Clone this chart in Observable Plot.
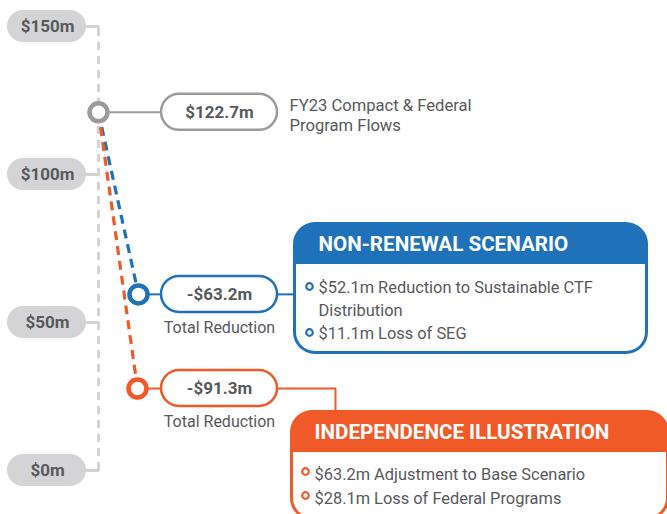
<!DOCTYPE html>
<html><head><meta charset="utf-8">
<script src="https://cdn.jsdelivr.net/npm/d3@7"></script>
<script src="https://cdn.jsdelivr.net/npm/@observablehq/plot@0.6"></script>
<style>html,body{margin:0;padding:0;overflow:hidden;background:#fff}</style>
</head><body><div id="chart"></div>
<script>
// ---- data ----
const tickValues = [0, 50, 100, 150];
const tickLabels = ["$0m", "$50m", "$100m", "$150m"];
const stepNames = ["base", "nonrenewal", "independence"];
const stepLevels = [121.0, 59.5, 27.7];          // vertical position of each node ($m)
const stepLabels = ["$122.7m", "-$63.2m", "-$91.3m"];
const stepSubLabels = ["", "Total Reduction", "Total Reduction"];
const baseCaption = "FY23 Compact & Federal\nProgram Flows";
const scenarioTitles = ["NON-RENEWAL SCENARIO", "INDEPENDENCE ILLUSTRATION"];
const nonRenewalItems = ["$52.1m Reduction to Sustainable CTF\nDistribution", "$11.1m Loss of SEG"];
const independenceItems = ["$63.2m Adjustment to Base Scenario", "$28.1m Loss of Federal Programs"];

// ---- styles / layout ----
const GRAY = "#9b9b9b", TXT = "#58595b", LIGHT = "#d4d4d6", BLUE = "#1f72ba", ORANGE = "#f05a28";
const stepColors = [GRAY, BLUE, ORANGE];
const FONT = "Roboto, 'Open Sans', sans-serif";
const yRange = [470, 26];
const ys = Plot.scale({y: {domain: [0, 150], range: yRange}});
const py = px => ys.invert(px);
const axisX = 98;
const pointX = [98, 138, 137];
const pillX1 = 161, pillX2 = 277;

const steps = stepNames.map((n, i) => ({name: n, level: stepLevels[i], label: stepLabels[i], sub: stepSubLabels[i], color: stepColors[i], px: pointX[i]}));
const ticks = tickValues.map((v, i) => ({v, label: tickLabels[i]}));

const boxes = [
  {title: scenarioTitles[0], color: BLUE, x1: 293, x2: 648, top: 222, hb: 264, bottom: 354, items: nonRenewalItems, tx: 318, bx: 309, itemTops: [275.5, 321.5], bullets: [286, 332]},
  {title: scenarioTitles[1], color: ORANGE, x1: 290, x2: 669, top: 410, hb: 452, bottom: 520, items: independenceItems, tx: 314, bx: 305, itemTops: [463, 487], bullets: [471, 495]}
];
const items = boxes.flatMap(b => b.items.map((t, j) => ({text: t, color: b.color, x: b.tx, bx: b.bx, top: b.itemTops[j], by: b.bullets[j]})));

const chart = Plot.plot({
  width: 667, height: 514, margin: 0,
  style: {fontFamily: FONT, background: "#fff"},
  x: {domain: [0, 667], range: [0, 667], axis: null},
  y: {domain: [0, 150], range: yRange, axis: null},
  marks: [
    // axis
    Plot.ruleX([axisX], {y1: 0, y2: 150, stroke: "#d3d3d3", strokeWidth: 3, strokeDasharray: "8,6"}),
    Plot.ruleY(ticks, {y: "v", x1: 86, x2: axisX + 1.5, stroke: "#d3d3d3", strokeWidth: 3}),
    Plot.rect(ticks, {x1: 7, x2: 86, y1: "v", y2: "v", insetTop: -16, insetBottom: -16, rx: 16, fill: LIGHT}),
    Plot.text(ticks, {x: 47, y: "v", text: "label", fontSize: 17, fontWeight: "bold", fill: TXT}),
    // scenario dashed paths
    Plot.link(steps.slice(1), {x1: pointX[0], y1: stepLevels[0], x2: "px", y2: "level", stroke: "color", strokeWidth: 3.2, strokeDasharray: "9,6"}),
    // connectors node -> pill
    Plot.ruleY(steps, {y: "level", x1: "px", x2: pillX1, stroke: "color", strokeWidth: 2}),
    // connectors pill -> boxes
    Plot.ruleY([steps[1]], {y: "level", x1: pillX2, x2: boxes[0].x1, stroke: BLUE, strokeWidth: 2}),
    Plot.line([[pillX2, steps[2].level], [335, steps[2].level], [335, py(boxes[1].top)]], {x: d => d[0], y: d => d[1], stroke: ORANGE, strokeWidth: 2}),
    // nodes
    Plot.dot(steps, {x: "px", y: "level", r: 9, stroke: "color", strokeWidth: 4.5, fill: "white"}),
    // pills
    Plot.rect(steps, {x1: pillX1, x2: pillX2, y1: "level", y2: "level", insetTop: -18, insetBottom: -18, rx: 18, fill: "white", stroke: "color", strokeWidth: 2.5}),
    Plot.text(steps, {x: (pillX1 + pillX2) / 2, y: "level", text: "label", fontSize: 17, fontWeight: "bold", fill: TXT}),
    Plot.text(steps, {x: (pillX1 + pillX2) / 2, y: "level", dy: 33, text: "sub", fontSize: 16, fill: TXT}),
    Plot.text([baseCaption], {x: 289, y: py(114), text: d => d, textAnchor: "start", lineAnchor: "middle", lineHeight: 1.22, fontSize: 16.6, fill: TXT}),
    // scenario boxes
    Plot.rect(boxes, {x1: "x1", x2: "x2", y1: d => py(d.top), y2: d => py(d.bottom), rx: 22, fill: "color"}),
    Plot.rect(boxes, {x1: d => d.x1 + 3, x2: d => d.x2 - 3, y1: d => py(d.hb), y2: d => py(d.bottom - 3), rx: 19, fill: "white"}),
    Plot.rect(boxes, {x1: d => d.x1 + 3, x2: d => d.x2 - 3, y1: d => py(d.hb), y2: d => py(d.hb + 24), fill: "white"}),
    Plot.text(boxes, {x: "tx", y: d => py((d.top + d.hb) / 2 + 1), text: "title", textAnchor: "start", fontSize: 20.6, fontWeight: "bold", fill: "white"}),
    Plot.dot(items, {x: "bx", y: d => py(d.by), r: 3.3, stroke: "color", strokeWidth: 2.2, fill: "white"}),
    Plot.text(items, {x: "x", y: d => py(d.top), text: "text", textAnchor: "start", lineAnchor: "top", lineHeight: 1.44, fontSize: 16.4, fill: TXT})
  ]
});
document.getElementById("chart").append(chart);
</script>
</body></html>
